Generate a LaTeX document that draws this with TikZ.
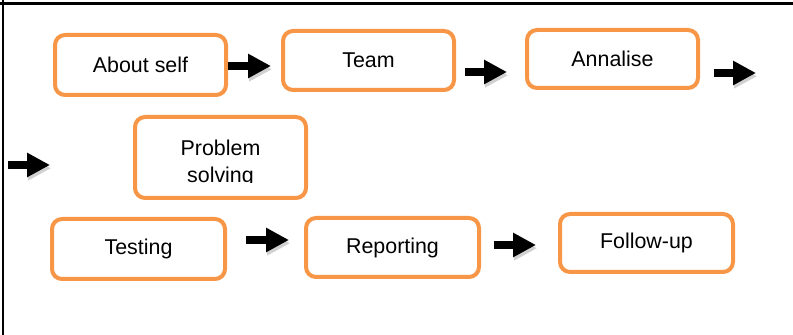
\documentclass[tikz,border=0pt]{standalone}
\usepackage{fontspec}
\setmainfont{Liberation Sans}
\usetikzlibrary{arrows.meta, positioning}
\definecolor{boxorange}{RGB}{247,150,70}

\tikzset{
  stepbox/.style={draw=boxorange, line width=2pt, rounded corners=5pt, fill=white,
    minimum width=85.5pt, minimum height=30pt, inner sep=0pt,
    font=\fontsize{10.7}{12.5}\selectfont},
  blockarrow/.style={line width=4pt, -{Triangle[length=11.5pt,width=11.5pt]},
    preaction={draw=black!18, transform canvas={shift={(0.6pt,-1.6pt)}}}}
}

\begin{document}
\begin{tikzpicture}[x=0.5pt, y=-0.5pt]
    \useasboundingbox (0,0) rectangle (793,335);
    % frame lines
    \draw[line width=1.1pt] (0,3.5) -- (793,3.5);
    \draw[line width=1.1pt] (3,0) -- (3,335);
    % first row
    \node[stepbox] (about) at (140.5,65) {About self};
    \node[stepbox, minimum height=29.5pt] (team) at (368.5,60.5) {Team};
    \node[stepbox, minimum height=29pt] (annalise) at (612.5,59) {Annalise};
    % second row
    \node[stepbox, minimum height=40.5pt] (solve) at (220.5,157.5) {};
    \begin{scope}
      \clip (133,100) rectangle (308,183);
      \node[align=center, font=\fontsize{10.7}{13.5}\selectfont] (solvetext)
        at ([yshift=-3pt]solve.center) {Problem\\solving};
    \end{scope}
    % third row
    \node[stepbox, minimum width=86.5pt] (testing) at (138.5,249) {Testing};
    \node[stepbox, minimum width=86.5pt, minimum height=29.5pt] (reporting) at (392.5,247.5) {Reporting};
    \node[stepbox, minimum width=86.5pt, minimum height=29pt] (followup) at (646.5,243) {Follow-up};
    % arrows
    \draw[blockarrow] ([yshift=-0.5pt]about.east) -- ++(43,0);
    \draw[blockarrow] ([xshift=4.5pt,yshift=-5.75pt]team.east) -- ++(42,0);
    \draw[blockarrow] ([xshift=7pt,yshift=-7pt]annalise.east) -- ++(42,0);
    \draw[blockarrow] ([xshift=-62.5pt,yshift=-3.75pt]solve.west) -- ++(42,0);
    \draw[blockarrow] ([xshift=9.5pt,yshift=4.5pt]testing.east) -- ++(43,0);
    \draw[blockarrow] ([xshift=6.5pt,yshift=1.25pt]reporting.east) -- ++(42,0);
\end{tikzpicture}
\end{document}
